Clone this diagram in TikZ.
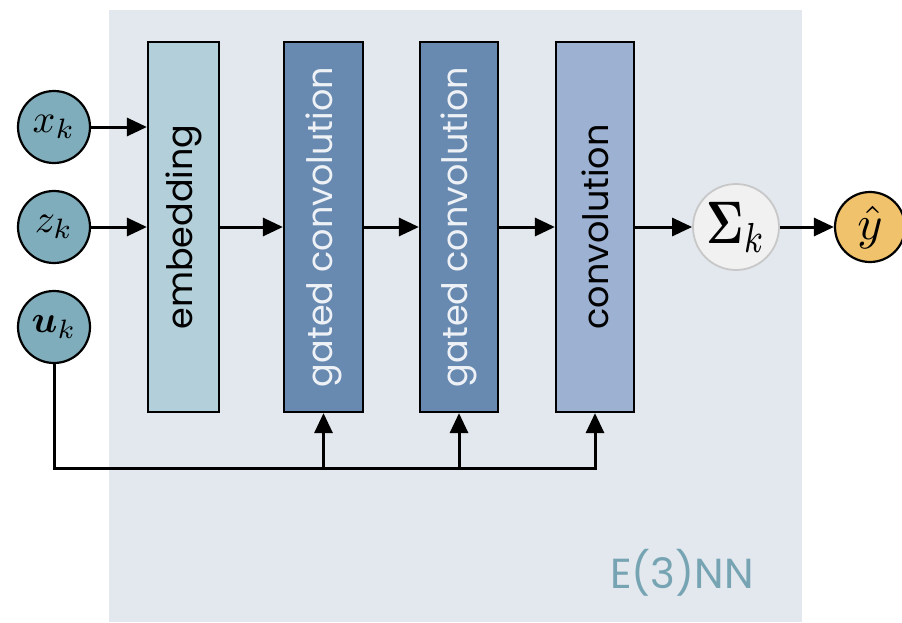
\documentclass[tikz,border=0pt]{standalone}
\usepackage{fontspec}
\usepackage{amsmath,bm,graphicx}
\setmainfont{Poppins}
\usetikzlibrary{arrows.meta}
\definecolor{panelbg}{HTML}{E2E8ED}
\definecolor{embfill}{HTML}{B2CFDA}
\definecolor{gatefill}{HTML}{6889B0}
\definecolor{convfill}{HTML}{9DB2D2}
\definecolor{infill}{HTML}{7FADBB}
\definecolor{sumfill}{HTML}{F1F1F1}
\definecolor{sumline}{HTML}{C8C8C8}
\definecolor{outfill}{HTML}{F0C26C}
\definecolor{tagcolor}{HTML}{77A4B3}
\definecolor{gatetext}{HTML}{EEF2F6}
\newcommand{\uptext}[1]{\rotatebox{90}{#1}}
\tikzset{
  layer/.style={draw=black, line width=2.2pt, minimum height=370pt,
    font=\fontsize{35}{36}\selectfont, inner sep=0pt},
  innode/.style={circle, draw=black, line width=2.2pt, fill=infill, minimum size=72pt,
    inner sep=0pt},
  flow/.style={line width=3pt, -{Triangle[length=20pt,width=18pt]}},
  wire/.style={line width=3pt}
}
\begin{document}
\begin{tikzpicture}[x=1pt,y=-1pt]
\useasboundingbox (0,0) rectangle (902,622);
% panel
\fill[panelbg] (109,10) rectangle (802,622);
\node[text=tagcolor, font=\fontsize{42}{44}\selectfont] (tag) at (682,573) {E(3)NN};
% layers
\node[layer, fill=embfill, minimum width=71pt] (emb) at (183.5,227) {\uptext{embedding}};
\node[layer, fill=gatefill, minimum width=79pt, text=gatetext] (g1) at (323.5,227) {\uptext{gated convolution}};
\node[layer, fill=gatefill, minimum width=78pt, text=gatetext] (g2) at (459,227) {\uptext{gated convolution}};
\node[layer, fill=convfill, minimum width=78pt] (conv) at (595,227) {\uptext{convolution}};
% inputs
\node[innode] (xk) at (54,127) {\scalebox{4}{$x_k$}};
\node[innode] (zk) at (54,227) {\scalebox{4}{$z_k$}};
\node[innode] (uk) at (54,327) {\scalebox{3.8}{$\bm{u}_k$}};
% pooling and output
\node[circle, draw=sumline, line width=1.8pt, fill=sumfill, minimum size=86pt, inner sep=0pt]
  (sum) at (736,227) {\scalebox{4.5}[6]{$\bm{\Sigma}_k$}};
\node[circle, draw=black, line width=2.2pt, fill=outfill, minimum size=70pt, inner sep=0pt]
  (yh) at (870,227) {\scalebox{4.8}{$\hat{y}$}};
% forward flow
\draw[flow] (xk) -- (xk -| emb.west);
\draw[flow] (zk) -- (zk -| emb.west);
\draw[flow] (emb.east) -- (g1.west);
\draw[flow] (g1.east) -- (g2.west);
\draw[flow] (g2.east) -- (conv.west);
\draw[flow] (conv.east) -- (sum);
\draw[flow] (sum) -- (yh);
% conditioning bus
\coordinate (busend) at (597,468);
\draw[wire] (uk.south) |- (busend);
\draw[flow] (g1.south |- busend) -- (g1.south);
\draw[flow] (g2.south |- busend) -- (g2.south);
\draw[flow] (conv.south |- busend) -- (conv.south);
\end{tikzpicture}
\end{document}
